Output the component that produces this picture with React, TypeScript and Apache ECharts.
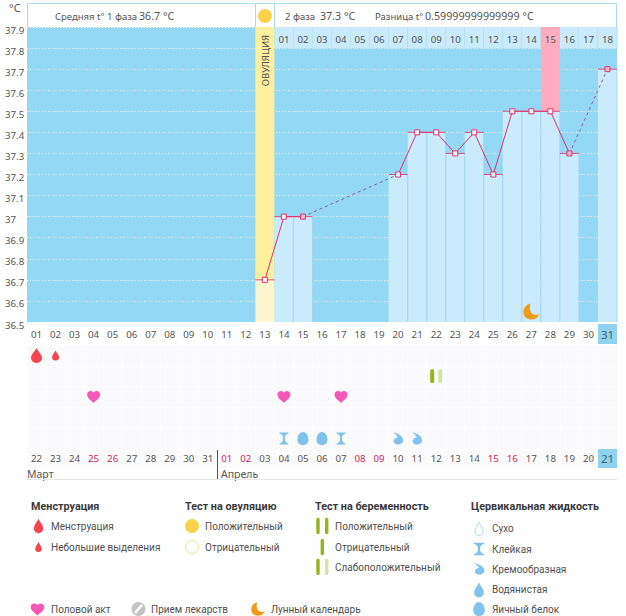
import React, { useEffect, useRef } from "react";
import * as echarts from "echarts";

const cycleDays = Array.from({ length: 31 }, (_, i) => String(i + 1).padStart(2, "0"));
const calendarDays = ["22","23","24","25","26","27","28","29","30","31","01","02","03","04","05","06","07","08","09","10","11","12","13","14","15","16","17","18","19","20","21"];
const weekendDays = ["25","26","01","02","08","09","15","16"];
const phaseTwoDays = ["","","","","","","","","","","","","","01","02","03","04","05","06","07","08","09","10","11","12","13","14","15","16","17","18"];
const temperatures: (number | null)[] = [null,null,null,null,null,null,null,null,null,null,null,null,36.7,37.0,37.0,null,null,null,null,37.2,37.4,37.4,37.3,37.4,37.2,37.5,37.5,37.5,37.3,null,37.7];
const dashedTemps: (number | null)[] = [null,null,null,null,null,null,null,null,null,null,null,null,null,null,37.0,null,null,null,null,37.2,null,null,null,null,null,null,null,null,37.3,null,37.7];
const gapEnds = [14, 28, 30];
const ovulationColumn = 12;
const peakColumn = 27;
const eventRows = ["cervical", "empty", "intercourse", "pregnancy", "menses"];
const mensesBig = [[0, "menses"]];
const mensesSmall = [[1, "menses"]];
const pregnancyStrong = [[21, "pregnancy"]];
const pregnancyWeak = [[21, "pregnancy"]];
const hearts = [[3, "intercourse"], [13, "intercourse"], [16, "intercourse"]];
const sticky = [[13, "cervical"], [16, "cervical"]];
const eggWhite = [[14, "cervical"], [15, "cervical"]];
const creamy = [[19, "cervical"], [20, "cervical"]];
const moonDays = [[26, 36.55]];

const DROP = "M0,-10 C2,-5 6.5,-1.5 6.5,3.5 A6.5,6.5 0 1 1 -6.5,3.5 C-6.5,-1.5 -2,-5 0,-10 Z";
const HEART = "M0,8 C-2,5.5 -8,2.5 -8,-2.5 C-8,-5.5 -5.8,-7 -3.8,-7 C-2.2,-7 -0.8,-6.2 0,-5 C0.8,-6.2 2.2,-7 3.8,-7 C5.8,-7 8,-5.5 8,-2.5 C8,2.5 2,5.5 0,8 Z";
const MOON = "M-1,-8 C-5,-7 -8,-3.5 -8,0.5 C-8,5 -4.5,8 0,8 C3.5,8 6.5,6 8,3 C3,4.5 -3.5,2.5 -1,-8 Z";
const HOURGLASS = "M-6,-7 H6 L5.6,-5.6 C2,-4.8 1.3,-3 1.3,0 C1.3,3 2,4.8 5.6,5.6 L6,7 H-6 L-5.6,5.6 C-2,4.8 -1.3,3 -1.3,0 C-1.3,-3 -2,-4.8 -5.6,-5.6 Z";
const EGG = "M0,-7 C3.5,-7 5.5,-2.5 5.5,1.5 C5.5,5 3,7 0,7 C-3,7 -5.5,5 -5.5,1.5 C-5.5,-2.5 -3.5,-7 0,-7 Z";
const CREAM = "M-5,-7 C0,-6.5 6,-3 6,2 C6,5 3.5,7 0.5,7 C-2.5,7 -4.5,5 -4.5,3 C-4.5,0.5 -2,-1 0,-1.5 C-1,-4 -3,-5.5 -5,-7 Z";
const BAR = "M-1.7,-6.5 A1.7,1.7 0 0 1 1.7,-6.5 V6.5 A1.7,1.7 0 0 1 -1.7,6.5 Z";

const shapes: Record<string, string> = { sDrop: DROP, sHeart: HEART, sMoon: MOON, sHour: HOURGLASS, sEgg: EGG, sCream: CREAM, sBar: BAR };
Object.keys(shapes).forEach((k) => echarts.graphic.registerShape(k, echarts.graphic.extendPath(shapes[k], {}) as any));

const FONT = "Roboto";
const TICK_FONT = "Noto Sans";
const TXT = "#555";

const bold = (text: string, x: number, y: number) => ({ type: "text", x, y, z: 10, style: { text, fill: "#3a3a3a", font: `bold 10.8px "${FONT}"`, textVerticalAlign: "middle" } });
const lbl = (text: string, x: number, y: number) => ({ type: "text", x, y, z: 10, style: { text, fill: "#505050", font: `10px "${FONT}"`, textVerticalAlign: "middle" } });
const small = (text: string, x: number, y: number) => ({ type: "text", x, y, z: 10, style: { text, fill: "#555", font: `9.5px "${TICK_FONT}"`, textVerticalAlign: "middle" } });
const big = (text: string, x: number, y: number) => ({ type: "text", x, y, z: 10, style: { text, fill: "#555", font: `10.7px "${TICK_FONT}"`, textVerticalAlign: "middle" } });
const icon = (type: string, x: number, y: number, fill: string, s = 1, sy = s) => ({ type, x, y, z: 10, scaleX: s, scaleY: sy, style: { fill } });

const BLUE = "#7fc3ec";
const GREEN = "#94b51a";
const PALE = "#d5e3a8";
const YELLOW = "#fbd34a";

const capsRender = (params: any, api: any) => {
  const i = api.value(0);
  const v = api.value(1);
  const top = api.coord([i, v]);
  const base = api.coord([i, 36.5]);
  const w = api.size([1, 0])[0];
  const l = top[0] - w / 2;
  const r = top[0] + w / 2;
  return {
    type: "group",
    children: [
      { type: "line", shape: { x1: r, y1: top[1], x2: r, y2: base[1] }, style: { stroke: i === ovulationColumn ? "#d8e8d8" : "#a3d6ec", lineWidth: 1 } },
      { type: "line", shape: { x1: l, y1: top[1], x2: r, y2: top[1] }, style: { stroke: "#de4d80", lineWidth: 1 } },
    ],
  };
};

const bandRender = (params: any, api: any) => {
  const i = api.value(0);
  const v = api.value(1);
  const top = api.coord([i, 37.9]);
  const bot = api.coord([i, v]);
  const w = api.size([1, 0])[0];
  return { type: "rect", shape: { x: top[0] - w / 2, y: top[1], width: w, height: bot[1] - top[1] }, style: { fill: api.value(2) === 1 ? "#ffabc0" : "#fdef9b" } };
};

const cellRender = (params: any, api: any) => {
  const i = api.value(0);
  const top = api.coord([i, 37.9]);
  const bot = api.coord([i, 37.8]);
  const w = api.size([1, 0])[0];
  const fill = i === peakColumn ? "#fcd3de" : "#c9ebfc";
  return {
    type: "group",
    children: [
      { type: "rect", shape: { x: top[0] - w / 2, y: top[1], width: w, height: bot[1] - top[1] }, style: { fill } },
      { type: "line", shape: { x1: top[0] + w / 2, y1: top[1], x2: top[0] + w / 2, y2: bot[1] }, style: { stroke: "#a9dbf0", lineWidth: 1 } },
    ],
  };
};

export default function App() {
  const ref = useRef<HTMLDivElement>(null);
  useEffect(() => {
    document.body.style.margin = "0";
    const chart = echarts.init(ref.current!, undefined, { renderer: "svg" });
    const cols = temperatures.map((v, i) => (v === null ? null : [i, v])).filter(Boolean);
    const cells = phaseTwoDays.map((d, i) => (d ? [i] : null)).filter(Boolean);
    const cell = { width: 19, align: "center", fontSize: 9.7, color: TXT, fontFamily: TICK_FONT };
    const hlCell = { width: 19, align: "center", backgroundColor: "#8fd3f0", fontSize: 11.5, color: "#46606e", fontFamily: TICK_FONT };
    chart.setOption({
      animation: false,
      backgroundColor: "#fff",
      textStyle: { fontFamily: TICK_FONT },
      grid: [
        { left: 27, right: 9, top: 27, height: 295, show: true, backgroundColor: "#93d8f5", borderWidth: 0 },
        { left: 27, right: 9, top: 345, height: 104, show: true, backgroundColor: "#faf9fb", borderWidth: 0 },
      ],
      xAxis: [
        { type: "category", gridIndex: 0, data: cycleDays, axisLine: { show: false }, axisTick: { show: false }, splitLine: { show: false },
          axisLabel: { interval: 0, margin: 2, fontSize: 10,
            formatter: (v: string, i: number) => (i === 30 ? `{hl|${v}}` : `{n|${v}}`),
            rich: { n: { ...cell, height: 20, lineHeight: 20 }, hl: { ...hlCell, height: 20, lineHeight: 20 } } } },
        { type: "category", gridIndex: 0, position: "top", z: 5, data: phaseTwoDays, axisLine: { show: false }, axisTick: { show: false }, splitLine: { show: false },
          axisLabel: { inside: true, interval: 0, margin: 7, fontSize: 9.7, color: TXT, fontFamily: TICK_FONT } },
        { type: "category", gridIndex: 1, data: calendarDays, axisLine: { show: false }, axisTick: { show: false },
          splitLine: { show: true, interval: 0, lineStyle: { color: "#fdfdfe", width: 1 } },
          axisLabel: { interval: 0, margin: 0, fontSize: 10,
            formatter: (v: string, i: number) => (i === 30 ? `{hl|${v}}` : weekendDays.includes(v) ? `{w|${v}}` : `{n|${v}}`),
            rich: { n: { ...cell, height: 19, lineHeight: 19 }, w: { ...cell, color: "#d2245f", height: 19, lineHeight: 19 }, hl: { ...hlCell, height: 19, lineHeight: 19 } } } },
      ],
      yAxis: [
        { type: "value", gridIndex: 0, min: 36.5, max: 37.9, interval: 0.1, axisLine: { show: false }, axisTick: { show: false },
          splitLine: { show: true, lineStyle: { color: "#ffffff", type: [1, 2], width: 1 } },
          axisLabel: { margin: 22, align: "left", verticalAlign: "top", lineHeight: 6, fontSize: 9.7, color: TXT, fontFamily: TICK_FONT,
            formatter: (v: number) => String(Math.round(v * 10) / 10) } },
        { type: "category", gridIndex: 1, data: eventRows, axisLine: { show: false }, axisTick: { show: false }, axisLabel: { show: false },
          splitLine: { show: true, interval: 0, lineStyle: { color: "#fdfdfe", width: 1 } } },
      ],
      graphic: [
        { type: "rect", z: 0, shape: { x: 27.5, y: 3.5, width: 589, height: 24 }, style: { fill: "#fff", stroke: "#a9d9ea", lineWidth: 1 } },
        { type: "line", z: 0, shape: { x1: 255.5, y1: 4, x2: 255.5, y2: 27 }, style: { stroke: "#a9d9ea", lineWidth: 1 } },
        { type: "line", z: 0, shape: { x1: 274.5, y1: 4, x2: 274.5, y2: 27 }, style: { stroke: "#a9d9ea", lineWidth: 1 } },
        { type: "rect", z: 0, shape: { x: 27, y: 449, width: 590, height: 19 }, style: { fill: "#fcfbfc" } },
        { type: "text", x: 9, y: 7, z: 10, style: { text: "°C", fill: "#555", font: `11px "${TICK_FONT}"`, textVerticalAlign: "middle" } },
        small("Средняя t° 1 фаза", 55, 16), big("36.7 °C", 139, 15.5),
        { type: "circle", z: 10, shape: { cx: 265, cy: 16, r: 7 }, style: { fill: YELLOW } },
        small("2 фаза", 285, 16), big("37.3 °C", 320, 15.5),
        small("Разница t°", 375, 16), big("0.59999999999999 °C", 425, 15.5),
        { type: "text", x: 265, y: 60.5, z: 10, rotation: Math.PI / 2, style: { text: "ОВУЛЯЦИЯ", fill: "#555", font: `9.5px "${TICK_FONT}"`, textAlign: "center", textVerticalAlign: "middle" } },
        { type: "text", x: 27, y: 474, z: 10, style: { text: "Март", fill: "#555", font: `10.5px "${TICK_FONT}"`, textVerticalAlign: "middle" } },
        { type: "text", x: 221, y: 474, z: 10, style: { text: "Апрель", fill: "#555", font: `10.5px "${TICK_FONT}"`, textVerticalAlign: "middle" } },
        { type: "line", z: 10, shape: { x1: 217.5, y1: 450, x2: 217.5, y2: 479 }, style: { stroke: "#555", lineWidth: 1 } },
        { type: "line", z: 10, shape: { x1: 27, y1: 479.5, x2: 617, y2: 479.5 }, style: { stroke: "#e6e8e8", lineWidth: 1 } },

        bold("Менструация", 31, 506),
        icon("sDrop", 38.5, 526, "#f6444f", 0.72, 0.72), lbl("Менструация", 51, 526),
        icon("sDrop", 38.5, 547, "#f6444f", 0.5, 0.5), lbl("Небольшие выделения", 51, 547),
        bold("Тест на овуляцию", 185, 506),
        { type: "circle", z: 10, shape: { cx: 192, cy: 526, r: 7 }, style: { fill: YELLOW } }, lbl("Положительный", 205, 526),
        { type: "circle", z: 10, shape: { cx: 192, cy: 547, r: 6.5 }, style: { fill: "#fff", stroke: "#f3e08e", lineWidth: 1 } }, lbl("Отрицательный", 205, 547),
        bold("Тест на беременность", 315, 506),
        icon("sBar", 318, 526, GREEN), icon("sBar", 326.7, 526, GREEN), lbl("Положительный", 335, 526),
        icon("sBar", 322.3, 547, GREEN), lbl("Отрицательный", 335, 547),
        icon("sBar", 318, 567, GREEN), icon("sBar", 326.7, 567, PALE), lbl("Слабоположительный", 335, 567),
        bold("Цервикальная жидкость", 471, 506),
        { type: "sDrop", z: 10, x: 479, y: 529, scaleX: 0.65, scaleY: 0.65, style: { fill: "#fff", stroke: "#a9d4ee", lineWidth: 1.4 } }, lbl("Сухо", 492, 528),
        icon("sHour", 479, 549, BLUE, 0.9, 0.9), lbl("Клейкая", 492, 549),
        icon("sCream", 479, 569, BLUE, 0.9, 0.8), lbl("Кремообразная", 492, 569),
        icon("sDrop", 479, 590, BLUE, 0.75, 0.75), lbl("Водянистая", 492, 589),
        icon("sEgg", 479, 609, BLUE, 1.05, 1), lbl("Яичный белок", 492, 609),
        icon("sHeart", 37.5, 609, "#f458b8", 0.85, 0.8), lbl("Половой акт", 51, 609),
        { type: "circle", z: 10, shape: { cx: 138.5, cy: 609, r: 7 }, style: { fill: "#c4c4c4" } },
        { type: "line", z: 11, shape: { x1: 135, y1: 613, x2: 142, y2: 605 }, style: { stroke: "#fff", lineWidth: 2.5 } },
        lbl("Прием лекарств", 151, 609),
        icon("sMoon", 258, 609, "#f19a18", 0.85, 0.85), lbl("Лунный календарь", 271, 609),
      ],
      series: [
        { name: "cells", type: "custom", xAxisIndex: 0, yAxisIndex: 0, data: cells, renderItem: cellRender, silent: true, encode: { x: 0 }, z: 2 },
        { name: "bands", type: "custom", xAxisIndex: 0, yAxisIndex: 0, data: [[ovulationColumn, temperatures[ovulationColumn], 0], [peakColumn, temperatures[peakColumn], 1]], renderItem: bandRender, silent: true, encode: { x: 0, y: 1 }, z: 2 },
        { name: "columns", type: "bar", xAxisIndex: 0, yAxisIndex: 0, barWidth: "100%", z: 2,
          data: temperatures.map((v, i) => (v === null ? null : { value: v, itemStyle: { color: i === ovulationColumn ? "#fdf6cf" : "#c9ebfc" } })) },
        { name: "caps", type: "custom", xAxisIndex: 0, yAxisIndex: 0, data: cols, renderItem: capsRender, silent: true, encode: { x: 0, y: 1 }, z: 3 },
        { name: "gaps", type: "line", xAxisIndex: 0, yAxisIndex: 0, connectNulls: true, z: 4, data: dashedTemps.map((v, i) => ([14, 19].includes(i) ? v : null)), showSymbol: false, symbol: "none",
          lineStyle: { color: "#9a5aa8", width: 1, type: [3, 3] } },
        { name: "gaps2", type: "line", xAxisIndex: 0, yAxisIndex: 0, connectNulls: true, z: 4, data: dashedTemps.map((v, i) => ([28, 30].includes(i) ? v : null)), showSymbol: false, symbol: "none",
          lineStyle: { color: "#9a5aa8", width: 1, type: [3, 3] } },
        { name: "temperature", type: "line", xAxisIndex: 0, yAxisIndex: 0, connectNulls: false, z: 5, symbol: "rect", symbolSize: 5, showAllSymbol: true,
          data: temperatures.map((v, i) => (v === null ? null : { value: v, itemStyle: { color: gapEnds.includes(i) ? "#f6b9cf" : "#fff" } })),
          lineStyle: { color: "#e0306e", width: 1 }, itemStyle: { color: "#fff", borderColor: "#e0306e", borderWidth: 1, opacity: 1 } },
        { name: "moon", type: "scatter", xAxisIndex: 0, yAxisIndex: 0, data: moonDays, symbol: "path://" + MOON, symbolSize: [16, 16], itemStyle: { color: "#f19a18", opacity: 1 }, z: 6 },
        { name: "mensesBig", type: "scatter", xAxisIndex: 2, yAxisIndex: 1, data: mensesBig, symbol: "path://" + DROP, symbolSize: [11, 15], itemStyle: { color: "#f6444f", opacity: 1 } },
        { name: "mensesSmall", type: "scatter", xAxisIndex: 2, yAxisIndex: 1, data: mensesSmall, symbol: "path://" + DROP, symbolSize: [7, 10], itemStyle: { color: "#f6444f", opacity: 1 } },
        { name: "pregStrong", type: "scatter", xAxisIndex: 2, yAxisIndex: 1, data: pregnancyStrong, symbol: "path://" + BAR, symbolSize: [4, 14], symbolOffset: [-4, 0], itemStyle: { color: GREEN, opacity: 1 } },
        { name: "pregWeak", type: "scatter", xAxisIndex: 2, yAxisIndex: 1, data: pregnancyWeak, symbol: "path://" + BAR, symbolSize: [4, 14], symbolOffset: [4, 0], itemStyle: { color: PALE, opacity: 1 } },
        { name: "hearts", type: "scatter", xAxisIndex: 2, yAxisIndex: 1, data: hearts, symbol: "path://" + HEART, symbolSize: [13, 12], itemStyle: { color: "#f458b8", opacity: 1 } },
        { name: "sticky", type: "scatter", xAxisIndex: 2, yAxisIndex: 1, data: sticky, symbol: "path://" + HOURGLASS, symbolSize: [9, 12], itemStyle: { color: BLUE, opacity: 1 } },
        { name: "egg", type: "scatter", xAxisIndex: 2, yAxisIndex: 1, data: eggWhite, symbol: "path://" + EGG, symbolSize: [11, 13], itemStyle: { color: BLUE, opacity: 1 } },
        { name: "creamy", type: "scatter", xAxisIndex: 2, yAxisIndex: 1, data: creamy, symbol: "path://" + CREAM, symbolSize: [10, 12], itemStyle: { color: BLUE, opacity: 1 } },
      ],
    });
    return () => chart.dispose();
  }, []);
  return <div ref={ref} style={{ width: 626, height: 616 }} />;
}
